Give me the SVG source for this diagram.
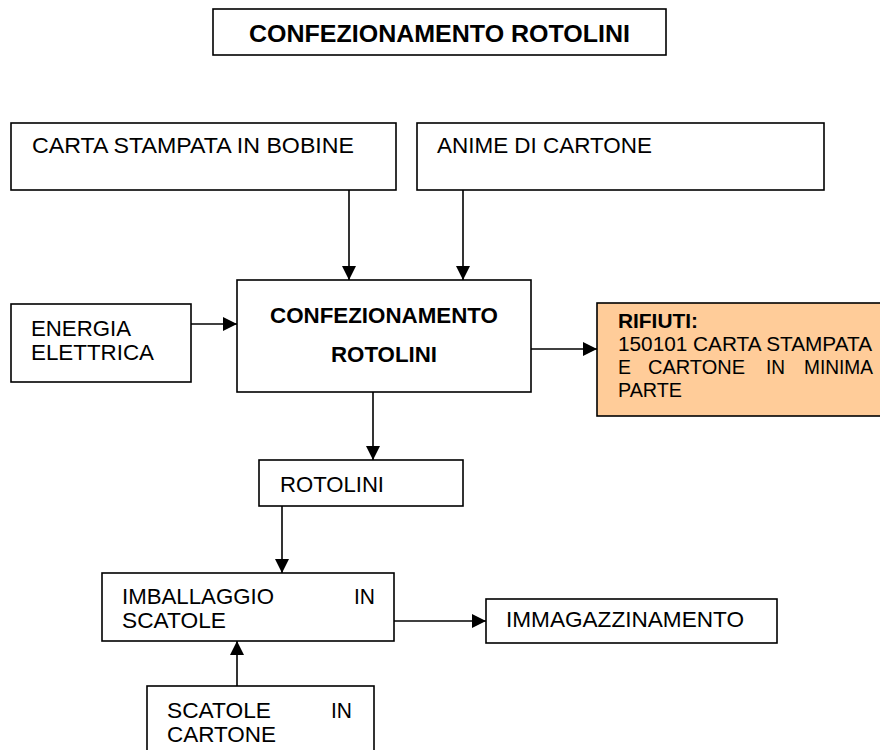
<svg xmlns="http://www.w3.org/2000/svg" width="880" height="750" viewBox="0 0 880 750">
  <style>
    .box { fill: #ffffff; stroke: #000000; stroke-width: 1.6; }
    .waste { fill: #ffcc99; stroke: #000000; stroke-width: 1.6; }
    .t { font-family: "Liberation Sans", Arial, sans-serif; font-size: 21.5px; fill: #000000; }
    .b { font-weight: bold; }
    .h { font-size: 23px; }
    .s { font-size: 19.5px; }
    .link { fill: none; stroke: #000000; stroke-width: 1.6; marker-end: url(#arrow); }
  </style>
  <defs>
    <marker id="arrow" markerUnits="userSpaceOnUse" markerWidth="14" markerHeight="14" refX="14" refY="7" orient="auto">
      <path d="M0,0 L14,7 L0,14 Z" fill="#000000"/>
    </marker>
  </defs>

  <rect width="880" height="750" fill="#ffffff"/>

  <g id="title">
    <rect class="box" x="213" y="9" width="453" height="46"/>
    <text class="t b h" x="249" y="42" textLength="381" lengthAdjust="spacingAndGlyphs">CONFEZIONAMENTO ROTOLINI</text>
  </g>

  <g id="carta-stampata">
    <rect class="box" x="11" y="123" width="385" height="67"/>
    <text class="t" x="32" y="153" textLength="322" lengthAdjust="spacingAndGlyphs">CARTA STAMPATA IN BOBINE</text>
  </g>

  <g id="anime-cartone">
    <rect class="box" x="417" y="123" width="407" height="67"/>
    <text class="t" x="437" y="153" textLength="215" lengthAdjust="spacingAndGlyphs">ANIME DI CARTONE</text>
  </g>

  <g id="energia">
    <rect class="box" x="11" y="304" width="180" height="78"/>
    <text class="t" x="31" y="336" textLength="100" lengthAdjust="spacingAndGlyphs">ENERGIA</text>
    <text class="t" x="31" y="360" textLength="123" lengthAdjust="spacingAndGlyphs">ELETTRICA</text>
  </g>

  <g id="confezionamento">
    <rect class="box" x="237" y="280" width="294" height="112"/>
    <text class="t b" x="270" y="323" textLength="228" lengthAdjust="spacingAndGlyphs">CONFEZIONAMENTO</text>
    <text class="t b" x="331" y="362" textLength="106" lengthAdjust="spacingAndGlyphs">ROTOLINI</text>
  </g>

  <g id="rifiuti">
    <rect class="waste" x="597" y="303" width="300" height="113"/>
    <text class="t s b" x="618" y="328" textLength="80" lengthAdjust="spacingAndGlyphs">RIFIUTI:</text>
    <text class="t s" x="618" y="351" textLength="254" lengthAdjust="spacingAndGlyphs">150101 CARTA STAMPATA</text>
    <text class="t s" x="618" y="374">E</text>
    <text class="t s" x="648" y="374" textLength="97" lengthAdjust="spacingAndGlyphs">CARTONE</text>
    <text class="t s" x="766" y="374" textLength="19" lengthAdjust="spacingAndGlyphs">IN</text>
    <text class="t s" x="804" y="374" textLength="69" lengthAdjust="spacingAndGlyphs">MINIMA</text>
    <text class="t s" x="618" y="397" textLength="64" lengthAdjust="spacingAndGlyphs">PARTE</text>
  </g>

  <g id="rotolini">
    <rect class="box" x="259" y="460" width="204" height="46"/>
    <text class="t" x="280" y="492" textLength="104" lengthAdjust="spacingAndGlyphs">ROTOLINI</text>
  </g>

  <g id="imballaggio">
    <rect class="box" x="102" y="573" width="292" height="68"/>
    <text class="t" x="122" y="604" textLength="152" lengthAdjust="spacingAndGlyphs">IMBALLAGGIO</text>
    <text class="t" x="354" y="604" textLength="21" lengthAdjust="spacingAndGlyphs">IN</text>
    <text class="t" x="122" y="628" textLength="104" lengthAdjust="spacingAndGlyphs">SCATOLE</text>
  </g>

  <g id="immagazzinamento">
    <rect class="box" x="486" y="599" width="291" height="44"/>
    <text class="t" x="506" y="627" textLength="238" lengthAdjust="spacingAndGlyphs">IMMAGAZZINAMENTO</text>
  </g>

  <g id="scatole-cartone">
    <rect class="box" x="147" y="686" width="227" height="80"/>
    <text class="t" x="167" y="718" textLength="104" lengthAdjust="spacingAndGlyphs">SCATOLE</text>
    <text class="t" x="331" y="718" textLength="21" lengthAdjust="spacingAndGlyphs">IN</text>
    <text class="t" x="167" y="742" textLength="109" lengthAdjust="spacingAndGlyphs">CARTONE</text>
  </g>

  <g id="connectors">
    <path class="link" d="M349,190 V280"/>
    <path class="link" d="M463,190 V280"/>
    <path class="link" d="M191,324 H237"/>
    <path class="link" d="M531,349 H597"/>
    <path class="link" d="M373,392 V460"/>
    <path class="link" d="M282,506 V573"/>
    <path class="link" d="M394,621 H486"/>
    <path class="link" d="M237,686 V641"/>
  </g>
</svg>
